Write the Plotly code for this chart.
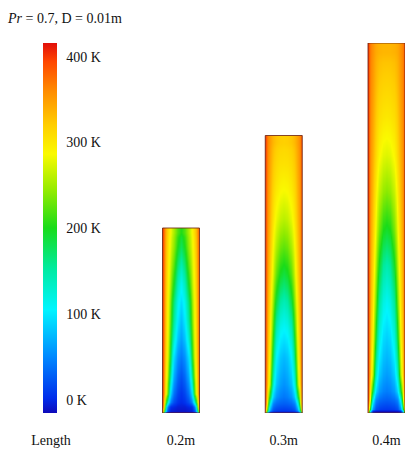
import plotly.graph_objects as go

# ---------------- data ----------------
lengths = [0.2, 0.3, 0.4]                       # m
length_labels = ["0.2m", "0.3m", "0.4m"]
axis_label = "Length"
cbar_ticks = [0, 100, 200, 300, 400]
cbar_ticktext = ["0 K", "100 K", "200 K", "300 K", "400 K"]
t_min, t_max = -15, 416                          # K, colour range of legend

# sample positions (fraction of width from wall to centre, fraction of height from inlet)
half_cols = [0.0, 0.01, 0.05, 0.11, 0.19, 0.29, 0.40, 0.5]
row_fracs = [0.0, 0.02, 0.1, 0.2, 0.3, 0.4, 0.5, 0.6, 0.7, 0.8, 0.9, 1.0]

# temperature (K), half profile wall -> centre, rows bottom -> top
T_02 = [
    [370, 300, 100, -5, -15, -15, -15, -15],
    [400, 390, 250, 60, 5, 0, -5, -5],
    [405, 395, 330, 250, 100, 40, 15, 5],
    [405, 397, 335, 275, 160, 70, 35, 20],
    [405, 398, 340, 290, 200, 95, 55, 40],
    [405, 398, 345, 295, 220, 130, 80, 60],
    [405, 398, 348, 298, 235, 155, 100, 75],
    [405, 398, 350, 300, 245, 170, 115, 90],
    [405, 398, 352, 305, 260, 200, 140, 110],
    [405, 398, 355, 310, 270, 225, 170, 140],
    [405, 398, 357, 315, 280, 245, 200, 175],
    [405, 398, 360, 320, 290, 255, 220, 200],
]
T_03 = [
    [370, 300, 120, 0, -10, -12, -12, -12],
    [400, 390, 280, 120, 50, 35, 30, 28],
    [405, 395, 330, 260, 130, 80, 62, 55],
    [405, 397, 340, 285, 180, 105, 82, 75],
    [405, 398, 345, 300, 220, 140, 112, 105],
    [405, 398, 350, 310, 250, 185, 150, 140],
    [405, 398, 355, 320, 275, 225, 195, 185],
    [405, 398, 358, 328, 290, 255, 232, 225],
    [405, 398, 360, 335, 305, 280, 265, 260],
    [405, 398, 362, 340, 315, 298, 288, 285],
    [405, 398, 365, 345, 325, 312, 306, 305],
    [405, 398, 368, 350, 335, 325, 320, 318],
]
T_04 = [
    [370, 300, 120, 0, -10, -12, -12, -12],
    [400, 390, 280, 120, 50, 35, 30, 28],
    [405, 395, 330, 260, 140, 85, 66, 60],
    [405, 397, 340, 290, 195, 120, 92, 85],
    [405, 398, 348, 305, 235, 155, 120, 110],
    [405, 398, 352, 315, 262, 195, 155, 145],
    [405, 398, 356, 325, 285, 235, 203, 195],
    [405, 398, 360, 333, 300, 265, 246, 240],
    [405, 398, 362, 340, 315, 290, 278, 275],
    [405, 398, 365, 346, 325, 308, 302, 300],
    [405, 398, 368, 352, 335, 323, 319, 318],
    [405, 398, 370, 356, 343, 337, 335, 335],
]
fields = [T_02, T_03, T_04]

# ---------------- styling ----------------
FONT = "Liberation Serif"
W, H = 405, 449
ML, MR, MT, MB = 0, 0, 43, 36
px_per_unit = 102.75          # horizontal spacing between the three ducts
first_center_px = 181
rect_w = 37 / px_per_unit
x0 = 1 - first_center_px / px_per_unit
x1 = x0 + (W - ML - MR) / px_per_unit
label_pos = 1 - (first_center_px - 51) / px_per_unit

colorscale = [
    [0.00, "rgb(15,10,185)"],
    [0.04, "rgb(0,45,235)"],
    [0.15, "rgb(0,135,255)"],
    [0.28, "rgb(0,245,255)"],
    [0.39, "rgb(0,235,160)"],
    [0.50, "rgb(25,220,25)"],
    [0.60, "rgb(145,235,0)"],
    [0.70, "rgb(250,250,0)"],
    [0.78, "rgb(255,205,0)"],
    [0.87, "rgb(255,140,0)"],
    [0.95, "rgb(255,70,0)"],
    [1.00, "rgb(225,15,10)"],
]


def to_edges(c):
    """cell edges whose outer limits coincide with the first/last sample"""
    mids = [(a + b) / 2 for a, b in zip(c[:-1], c[1:])]
    return [c[0]] + mids + [c[-1]]


full_cols = half_cols + [1 - v for v in reversed(half_cols[:-1])]

fig = go.Figure()
shapes = []
for i, (L, T) in enumerate(zip(lengths, fields)):
    pos = i + 1
    z = [row + row[-2::-1] for row in T]
    xs = [pos + (c - 0.5) * rect_w for c in full_cols]
    ys = [L * f for f in row_fracs]
    fig.add_trace(go.Heatmap(
        x=to_edges(xs), y=to_edges(ys), z=z, zsmooth="best",
        coloraxis="coloraxis", hoverinfo="skip",
    ))
    shapes.append(dict(type="rect", xref="x", yref="y",
                       x0=xs[0], x1=xs[-1], y0=0, y1=L,
                       line=dict(color="rgba(110,40,20,0.85)", width=1)))

fig.update_layout(
    width=W, height=H,
    margin=dict(l=ML, r=MR, t=MT, b=MB, pad=0, autoexpand=False),
    paper_bgcolor="white", plot_bgcolor="white",
    showlegend=False,
    shapes=shapes,
    coloraxis=dict(
        colorscale=colorscale, cmin=t_min, cmax=t_max,
        colorbar=dict(
            x=43 / W, xanchor="left", xpad=0,
            y=0, yanchor="bottom", len=1, lenmode="fraction", ypad=0,
            thickness=14, outlinewidth=0,
            tickvals=cbar_ticks, ticktext=cbar_ticktext,
            ticks="outside", ticklen=7, tickcolor="rgba(0,0,0,0)",
            tickfont=dict(family=FONT, size=14, color="#111"),
        ),
    ),
    xaxis=dict(range=[x0, x1], showgrid=False, zeroline=False, showline=False,
               automargin=False,
               tickvals=[label_pos, 1, 2, 3],
               ticktext=[axis_label] + length_labels,
               ticks="outside", ticklen=14, tickcolor="rgba(0,0,0,0)",
               tickfont=dict(family=FONT, size=14, color="#111")),
    yaxis=dict(range=[0, max(lengths)], visible=False, automargin=False),
    annotations=[dict(
        text="<i>Pr</i> = 0.7, D = 0.01m",
        xref="paper", yref="paper", x=5 / W, y=(H - MB - 18) / (H - MT - MB),
        xanchor="left", yanchor="middle", showarrow=False,
        font=dict(family=FONT, size=14, color="#111"),
    )],
)

fig.write_html("out.html",
               config={"displayModeBar": False},
               post_script="document.body.style.margin='0';"
                           "document.body.style.overflow='hidden';")
